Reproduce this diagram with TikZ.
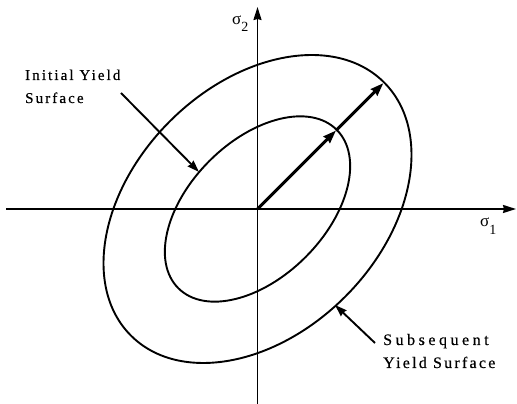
\documentclass[tikz,border=0pt]{standalone}
\usepackage{fontspec}
\setmainfont{Liberation Serif}
\newfontfamily\lblfont[LetterSpace=14,FakeBold=0.4]{Liberation Serif}
\newfontfamily\lblwide[LetterSpace=22,FakeBold=0.4]{Liberation Serif}
\usetikzlibrary{arrows.meta,calc}
\begin{document}
\begin{tikzpicture}[x=1pt,y=1pt,
  curve/.style={line width=1.9pt},
  axis/.style={line width=1.8pt,-{Stealth[length=13pt,width=8pt,inset=1pt]}},
  leader/.style={line width=1.9pt,-{Stealth[length=12pt,width=8pt,inset=1pt]}},
  mainarr/.style={line width=3pt,-{Stealth[length=13pt,width=9pt,inset=1pt]}},
  lbl/.style={anchor=base west,inner sep=0pt,font=\lblfont\fontsize{15}{18}\selectfont},
  lblb/.style={anchor=base west,inner sep=0pt,font=\lblfont\fontsize{16}{19}\selectfont},
  lblw/.style={anchor=base west,inner sep=0pt,font=\lblwide\fontsize{16}{19}\selectfont},
  sig/.style={anchor=base west,inner sep=0pt,font=\fontsize{17}{20}\selectfont}]
\useasboundingbox (0,0) rectangle (517,404);
\coordinate (O) at (257.5,195);
\coordinate (xl) at (6,195);
\coordinate (xr) at (516,195);
\coordinate (yb) at (257.5,0);
\coordinate (yt) at (257.5,397);
% axes
\draw[axis] (xl) -- (xr);
\draw[axis] (yb) -- (yt);
% yield surfaces
\draw[curve] (O) ellipse[x radius=179, y radius=124, rotate=45];
\draw[curve] (O) ellipse[x radius=112, y radius=68, rotate=45];
% loading path
\coordinate (pin) at ($(O)+(45:111)$);
\coordinate (pout) at ($(O)+(45:178)$);
\draw[mainarr] (O) -- (pin);
\draw[mainarr] (pin) -- (pout);
% labels
\node[lbl] (init1) at (25,324) {Initial Yield};
\node[lbl] (init2) at (25,301) {Surface};
\node[lblw] (sub1) at (383,59) {Subsequent};
\node[lblb] (sub2) at (383,36) {Yield Surface};
\coordinate (initS) at (121,311);
\coordinate (initE) at (199,232);
\coordinate (subS) at (375,61);
\coordinate (subE) at (335,99);
\draw[leader] (initS) -- (initE);
\draw[leader] (subS) -- (subE);
% axis labels
\node[sig] (s2) at (232,379) {σ\raisebox{-7pt}{\fontsize{14}{16}\selectfont 2}};
\node[sig] (s1) at (480,177) {σ\raisebox{-8pt}{\fontsize{14}{16}\selectfont 1}};
\end{tikzpicture}
\end{document}
